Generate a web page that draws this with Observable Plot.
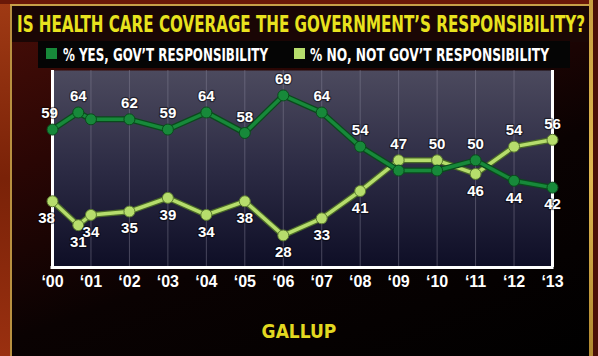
<!DOCTYPE html>
<html>
<head>
<meta charset="utf-8">
<script src="https://cdn.jsdelivr.net/npm/d3@7"></script>
<script src="https://cdn.jsdelivr.net/npm/@observablehq/plot@0.6"></script>
<style>
  html, body { margin: 0; padding: 0; background: #000; }
  #stage { position: relative; width: 598px; height: 356px; overflow: hidden;
    background: linear-gradient(160deg, #4a0e08 0%, #2a0604 30%, #0a0202 60%, #000 100%); }
  .deco { position: absolute; }
  .cond { font-family: "Liberation Sans Narrow", "DejaVu Sans Condensed", "Liberation Sans", sans-serif; font-weight: bold; white-space: nowrap; }
  #title { position: absolute; left: 17px; top: 11px; font-size: 23px; line-height: 26px; color: #e8e21e; transform-origin: 0 0; }
  .leg { position: absolute; top: 45px; font-size: 18px; line-height: 19px; color: #fff; transform-origin: 0 0; }
  .sw { position: absolute; top: 48px; width: 11px; height: 11px; }
  #source { position: absolute; top: 320px; left: 0; width: 598px; text-align: center; font-size: 19px; color: #e2d820; }
  #chart { position: absolute; left: 0; top: 0; }
  g[aria-label="x-axis tick label"] text { font-family: "Liberation Sans", Arial, sans-serif; font-weight: bold; font-size: 16px; fill: #fff; }
</style>
</head>
<body>
<div id="stage">
  <div class="deco" style="left:0;top:0;width:10px;height:356px;background:linear-gradient(180deg,#a03a14,#7a2208 50%,#9a3010);"></div>
  <div class="deco" style="left:10px;top:0;width:2px;height:356px;background:#b89040;"></div>
  <div class="deco" style="left:0;top:0;width:598px;height:4px;background:#6a1808;"></div>
  <div class="deco" style="left:10px;top:4px;width:582px;height:2px;background:#c8a048;"></div>
  <div class="deco" style="left:12px;top:6px;width:577px;height:36px;background:#1a0605;"></div>
  <div class="deco" style="left:589px;top:0;width:4px;height:356px;background:linear-gradient(180deg,#c8a040,#e0b850 50%,#b08830);"></div>
  <div class="deco" style="left:593px;top:0;width:5px;height:356px;background:#4a1008;"></div>
  <div class="deco" style="left:38px;top:41px;width:532px;height:27px;background:#050505;"></div>
  <div id="title" class="cond"></div>
  <div class="sw" id="sw1"></div><div class="leg cond" id="leg1"></div>
  <div class="sw" id="sw2"></div><div class="leg cond" id="leg2"></div>
  <div id="chart"></div>
  <div id="source" class="cond"></div>
</div>
<script>
// ---- data ----
const titleText = "IS HEALTH CARE COVERAGE THE GOVERNMENT\u2019S RESPONSIBILITY?";
const seriesNames = ["% YES, GOV\u2019T RESPONSIBILITY", "% NO, NOT GOV\u2019T RESPONSIBILITY"];
const seriesColors = ["#17893a", "#b6dd6c"];
const sourceText = "GALLUP";
const years = [2000, 2000.67, 2001, 2002, 2003, 2004, 2005, 2006, 2007, 2008, 2009, 2010, 2011, 2012, 2013];
const yesValues = [59, 64, 62, 62, 59, 64, 58, 69, 64, 54, 47, 47, 50, 44, 42];
const noValues  = [38, 31, 34, 35, 39, 34, 38, 28, 33, 41, 50, 50, 46, 54, 56];
const yesLabels = ["59", "64", null, "62", "59", "64", "58", "69", "64", "54", null, null, "50", "44", "42"];
const yesLabelSide = ["above", "above", null, "above", "above", "above", "above", "above", "above", "above", null, null, "above", "below", "below"];
const noLabels  = ["38", "31", "34", "35", "39", "34", "38", "28", "33", "41", "47", "50", "46", "54", "56"];
const noLabelSide = ["below", "below", "below", "below", "below", "below", "below", "below", "below", "below", "above", "above", "below", "above", "above"];
const tickYears = [2000, 2001, 2002, 2003, 2004, 2005, 2006, 2007, 2008, 2009, 2010, 2011, 2012, 2013];

// ---- header / legend ----
function fit(el, text, width) {
  el.textContent = text;
  const w = el.getBoundingClientRect().width;
  el.style.transform = `scaleX(${width / w})`;
}
fit(document.getElementById("title"), titleText, 568);
document.getElementById("sw1").style.cssText += `left:46px;background:${seriesColors[0]}`;
document.getElementById("sw2").style.cssText += `left:294px;background:${seriesColors[1]}`;
const l1 = document.getElementById("leg1"); l1.style.left = "63px"; fit(l1, seriesNames[0], 205);
const l2 = document.getElementById("leg2"); l2.style.left = "310px"; fit(l2, seriesNames[1], 239);
document.getElementById("source").textContent = sourceText;

// ---- chart ----
const rows = years.map((year, i) => ({
  year, yes: yesValues[i], no: noValues[i],
  yesLabel: yesLabels[i], yesSide: yesLabelSide[i],
  noLabel: noLabels[i], noSide: noLabelSide[i]
}));
const yDomain = [18.6, 76.3];
const first = years[0];

function defs() {
  const ns = "http://www.w3.org/2000/svg";
  const d = document.createElementNS(ns, "defs");
  d.innerHTML = `<linearGradient id="bg" x1="0" y1="0" x2="0" y2="1">
    <stop offset="0" stop-color="#4c4a5e"/><stop offset="0.5" stop-color="#2c2b44"/><stop offset="1" stop-color="#0e0e26"/></linearGradient>`;
  return d;
}

const labelStyle = {
  fill: "#fff", fontSize: 15, fontWeight: "bold",
  fontFamily: "Liberation Sans, Arial, sans-serif",
  stroke: "#000", strokeWidth: 2.5, strokeOpacity: 0.45, paintOrder: "stroke"
};
function labels(key, textKey, sideKey, side, dy) {
  const sel = rows.filter(d => d[sideKey] === side);
  return [
    Plot.text(sel.filter(d => d.year !== first), { x: "year", y: key, text: textKey, dy, ...labelStyle }),
    Plot.text(sel.filter(d => d.year === first), { x: "year", y: key, text: textKey, dy, dx: side === "above" ? -3 : -6, ...labelStyle })
  ];
}

const plot = Plot.plot({
  width: 598, height: 300,
  marginLeft: 52, marginRight: 46, marginTop: 70, marginBottom: 33,
  style: { background: "transparent", overflow: "visible" },
  x: { domain: [2000, 2013], label: null },
  y: { domain: yDomain, axis: null },
  marks: [
    defs,
    Plot.frame({ fill: "url(#bg)", stroke: null }),
    Plot.gridX(tickYears, { stroke: "#8a889c", strokeOpacity: 0.45, strokeWidth: 1 }),
    Plot.ruleX([2000, 2013], { stroke: "#fff", strokeWidth: 3 }),
    Plot.ruleY([yDomain[0]], { stroke: "#fff", strokeWidth: 3, x1: 2000, x2: 2013, insetLeft: -1.5, insetRight: -1.5 }),
    Plot.axisX(tickYears, { tickSize: 0, tickPadding: 8, tickFormat: d => "\u2018" + String(d % 100).padStart(2, "0") }),
    // No line
    Plot.line(rows, { x: "year", y: "no", stroke: "#4a6a28", strokeWidth: 6 }),
    Plot.line(rows, { x: "year", y: "no", stroke: seriesColors[1], strokeWidth: 3.5 }),
    Plot.dot(rows, { x: "year", y: "no", r: 5.5, fill: seriesColors[1], stroke: "#5a7a30", strokeWidth: 1 }),
    // Yes line
    Plot.line(rows, { x: "year", y: "yes", stroke: "#0a4a1c", strokeWidth: 6 }),
    Plot.line(rows, { x: "year", y: "yes", stroke: seriesColors[0], strokeWidth: 3.5 }),
    Plot.dot(rows, { x: "year", y: "yes", r: 5.5, fill: seriesColors[0], stroke: "#0a4a1c", strokeWidth: 1 }),
    // labels
    ...labels("yes", "yesLabel", "yesSide", "above", -16),
    ...labels("yes", "yesLabel", "yesSide", "below", 17),
    ...labels("no", "noLabel", "noSide", "above", -16),
    ...labels("no", "noLabel", "noSide", "below", 17)
  ]
});
document.getElementById("chart").appendChild(plot);
</script>
</body>
</html>
